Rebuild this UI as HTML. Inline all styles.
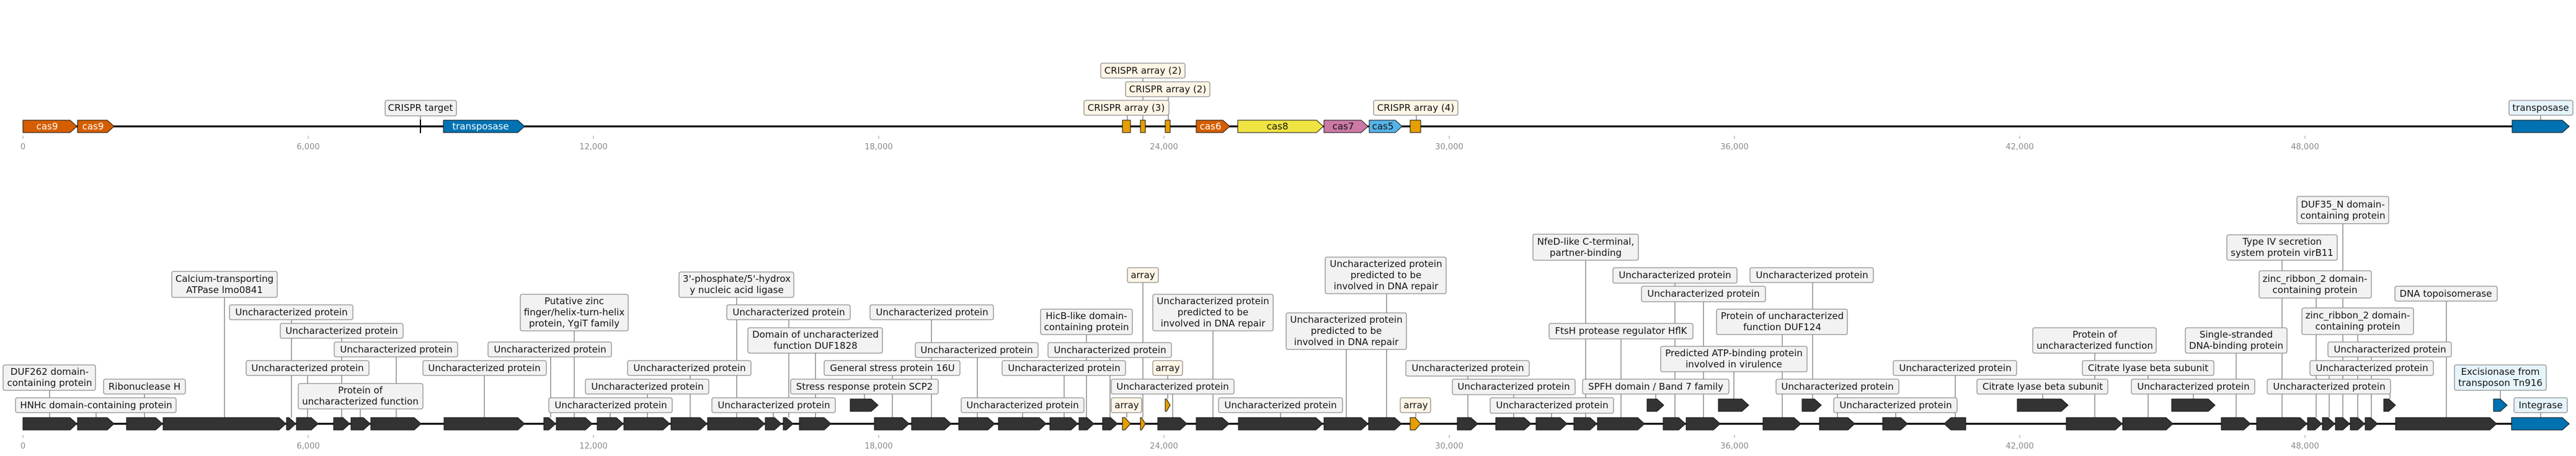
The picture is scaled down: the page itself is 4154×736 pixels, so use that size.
<!DOCTYPE html>
<html><head><meta charset="utf-8"><style>
html,body{margin:0;padding:0;background:#fff;}
svg{display:block;}
.b{fill:#f2f2f2;stroke:#8f8f8f;stroke-width:1.3}
.c{fill:#fdf5e6;stroke:#8f8f8f;stroke-width:1.3}
.l{fill:#e6f4fb;stroke:#8f8f8f;stroke-width:1.3}
.t{font-family:"DejaVu Sans","Liberation Sans",sans-serif;font-size:15px;text-anchor:middle;fill:#111}
.w{font-family:"DejaVu Sans","Liberation Sans",sans-serif;font-size:15px;text-anchor:middle;fill:#fff}
.tk{font-family:"DejaVu Sans","Liberation Sans",sans-serif;font-size:13px;text-anchor:middle;fill:#888}
.k{stroke:#555;stroke-width:1}
.g{fill:#333;stroke:#111;stroke-width:1}
.o{fill:#e69f00;stroke:#111;stroke-width:1}
.bl{fill:#0072b2;stroke:#111;stroke-width:1}
</style></head><body>
<svg width="4154" height="736" viewBox="0 0 4154 736" xmlns="http://www.w3.org/2000/svg">
<!-- backbones -->
<line x1="37" y1="204" x2="4143" y2="204" stroke="#000" stroke-width="3"/>
<line x1="37" y1="684" x2="4143" y2="684" stroke="#000" stroke-width="3"/>

<!-- ticks top -->
<g stroke="#999" stroke-width="1">
<line x1="37" y1="219" x2="37" y2="224"/><line x1="497" y1="219" x2="497" y2="224"/><line x1="957" y1="219" x2="957" y2="224"/><line x1="1417" y1="219" x2="1417" y2="224"/><line x1="1877" y1="219" x2="1877" y2="224"/><line x1="2337" y1="219" x2="2337" y2="224"/><line x1="2797" y1="219" x2="2797" y2="224"/><line x1="3257" y1="219" x2="3257" y2="224"/><line x1="3717" y1="219" x2="3717" y2="224"/>
<line x1="37" y1="702" x2="37" y2="707"/><line x1="497" y1="702" x2="497" y2="707"/><line x1="957" y1="702" x2="957" y2="707"/><line x1="1417" y1="702" x2="1417" y2="707"/><line x1="1877" y1="702" x2="1877" y2="707"/><line x1="2337" y1="702" x2="2337" y2="707"/><line x1="2797" y1="702" x2="2797" y2="707"/><line x1="3257" y1="702" x2="3257" y2="707"/><line x1="3717" y1="702" x2="3717" y2="707"/>
</g>
<text class="tk" x="37" y="241">0</text><text class="tk" x="497" y="241">6,000</text><text class="tk" x="957" y="241">12,000</text><text class="tk" x="1417" y="241">18,000</text><text class="tk" x="1877" y="241">24,000</text><text class="tk" x="2337" y="241">30,000</text><text class="tk" x="2797" y="241">36,000</text><text class="tk" x="3257" y="241">42,000</text><text class="tk" x="3717" y="241">48,000</text>
<text class="tk" x="37" y="724">0</text><text class="tk" x="497" y="724">6,000</text><text class="tk" x="957" y="724">12,000</text><text class="tk" x="1417" y="724">18,000</text><text class="tk" x="1877" y="724">24,000</text><text class="tk" x="2337" y="724">30,000</text><text class="tk" x="2797" y="724">36,000</text><text class="tk" x="3257" y="724">42,000</text><text class="tk" x="3717" y="724">48,000</text>

<!-- top connectors -->
<g class="k">
<line x1="678" y1="187" x2="678" y2="194"/>
<line x1="1843" y1="126" x2="1843" y2="194"/>
<line x1="1884" y1="156" x2="1884" y2="194"/>
<line x1="1818" y1="186" x2="1818" y2="194"/>
<line x1="2284" y1="186" x2="2284" y2="194"/>
<line x1="4097" y1="186" x2="4097" y2="194"/>
</g>
<!-- top features -->
<polygon points="37,194 113,194 124,204 113,214 37,214" fill="#d55e00" stroke="#111"/>
<polygon points="125,194 173,194 184,204 173,214 125,214" fill="#d55e00" stroke="#111"/>
<text class="w" x="76" y="209">cas9</text><text class="w" x="150" y="209">cas9</text>
<line x1="678" y1="193" x2="678" y2="215" stroke="#000" stroke-width="2"/>
<polygon points="715,194 835,194 846,204 835,214 715,214" class="bl"/>
<text class="w" x="775" y="209">transposase</text>
<rect x="1810" y="194" width="13" height="20" class="o"/>
<rect x="1839" y="194" width="8" height="20" class="o"/>
<rect x="1879" y="194" width="8" height="20" class="o"/>
<rect x="2274" y="194" width="17" height="20" class="o"/>
<polygon points="1929,194 1972,194 1983,204 1972,214 1929,214" fill="#d55e00" stroke="#111"/>
<text class="w" x="1952" y="209">cas6</text>
<polygon points="1996,194 2123,194 2134,204 2123,214 1996,214" fill="#f0e442" stroke="#111"/>
<text class="t" x="2060" y="209">cas8</text>
<polygon points="2135,194 2195,194 2206,204 2195,214 2135,214" fill="#cc79a7" stroke="#111"/>
<text class="t" x="2166" y="209">cas7</text>
<polygon points="2208,194 2250,194 2261,204 2250,214 2208,214" fill="#56b4e9" stroke="#111"/>
<text class="t" x="2230" y="209">cas5</text>
<polygon points="4051,194 4132,194 4143,204 4132,214 4051,214" class="bl"/>
<!-- top labels -->
<rect x="621" y="162" width="115" height="25" rx="3" class="b"/><text class="t" x="678" y="179">CRISPR target</text>
<rect x="1775" y="102" width="136" height="24" rx="3" class="c"/><text class="t" x="1843" y="119">CRISPR array (2)</text>
<rect x="1815" y="132" width="136" height="24" rx="3" class="c"/><text class="t" x="1883" y="149">CRISPR array (2)</text>
<rect x="1748" y="162" width="137" height="24" rx="3" class="c"/><text class="t" x="1816" y="179">CRISPR array (3)</text>
<rect x="2215" y="162" width="136" height="24" rx="3" class="c"/><text class="t" x="2283" y="179">CRISPR array (4)</text>
<rect x="4046" y="162" width="103" height="24" rx="3" class="l"/><text class="t" x="4097" y="179">transposase</text>

<!-- bottom connectors -->
<g class="k">
<line x1="80" y1="630" x2="80" y2="674"/>
<line x1="233" y1="636" x2="233" y2="674"/>
<line x1="155" y1="666" x2="155" y2="674"/>
<line x1="362" y1="480" x2="362" y2="674"/>
<line x1="470" y1="516" x2="470" y2="674"/>
<line x1="551" y1="546" x2="551" y2="674"/>
<line x1="639" y1="576" x2="639" y2="674"/>
<line x1="496" y1="606" x2="496" y2="674"/>
<line x1="581" y1="660" x2="581" y2="674"/>
<line x1="781" y1="606" x2="781" y2="674"/>
<line x1="926" y1="534" x2="926" y2="674"/>
<line x1="888" y1="576" x2="888" y2="674"/>
<line x1="1188" y1="480" x2="1188" y2="674"/>
<line x1="1272" y1="516" x2="1272" y2="674"/>
<line x1="1315" y1="570" x2="1315" y2="674"/>
<line x1="1113" y1="606" x2="1113" y2="674"/>
<line x1="1044" y1="636" x2="1044" y2="674"/>
<line x1="984" y1="666" x2="984" y2="674"/>
<line x1="1247" y1="666" x2="1247" y2="674"/>
<line x1="1439" y1="606" x2="1439" y2="674"/>
<line x1="1394" y1="636" x2="1394" y2="644"/>
<line x1="1502" y1="516" x2="1502" y2="674"/>
<line x1="1576" y1="577" x2="1576" y2="674"/>
<line x1="1649" y1="666" x2="1649" y2="674"/>
<line x1="1716" y1="606" x2="1716" y2="674"/>
<line x1="1752" y1="540" x2="1752" y2="674"/>
<line x1="1790" y1="577" x2="1790" y2="674"/>
<line x1="1843" y1="456" x2="1843" y2="674"/>
<line x1="1883" y1="606" x2="1883" y2="644"/>
<line x1="1891" y1="636" x2="1891" y2="674"/>
<line x1="1817" y1="666" x2="1817" y2="674"/>
<line x1="1956" y1="534" x2="1956" y2="674"/>
<line x1="2065" y1="666" x2="2065" y2="674"/>
<line x1="2236" y1="474" x2="2236" y2="674"/>
<line x1="2171" y1="564" x2="2171" y2="674"/>
<line x1="2283" y1="666" x2="2283" y2="674"/>
<line x1="2367" y1="607" x2="2367" y2="674"/>
<line x1="2441" y1="637" x2="2441" y2="674"/>
<line x1="2502" y1="667" x2="2502" y2="674"/>
<line x1="2557" y1="420" x2="2557" y2="674"/>
<line x1="2701" y1="457" x2="2701" y2="674"/>
<line x1="2747" y1="487" x2="2747" y2="674"/>
<line x1="2614" y1="547" x2="2614" y2="674"/>
<line x1="2796" y1="600" x2="2796" y2="644"/>
<line x1="2670" y1="636" x2="2670" y2="644"/>
<line x1="2923" y1="456" x2="2923" y2="644"/>
<line x1="2874" y1="540" x2="2874" y2="674"/>
<line x1="2963" y1="636" x2="2963" y2="674"/>
<line x1="3057" y1="666" x2="3057" y2="674"/>
<line x1="3153" y1="606" x2="3153" y2="674"/>
<line x1="3294" y1="636" x2="3294" y2="644"/>
<line x1="3378" y1="570" x2="3378" y2="674"/>
<line x1="3464" y1="606" x2="3464" y2="674"/>
<line x1="3537" y1="636" x2="3537" y2="644"/>
<line x1="3606" y1="570" x2="3606" y2="674"/>
<line x1="3778" y1="361" x2="3778" y2="674"/>
<line x1="3680" y1="420" x2="3680" y2="674"/>
<line x1="3735" y1="481" x2="3735" y2="674"/>
<line x1="3945" y1="486" x2="3945" y2="674"/>
<line x1="3802" y1="540" x2="3802" y2="674"/>
<line x1="3824" y1="576" x2="3824" y2="674"/>
<line x1="3756" y1="606" x2="3756" y2="674"/>
<line x1="3854" y1="636" x2="3854" y2="644"/>
<line x1="4032" y1="630" x2="4032" y2="644"/>
<line x1="4097" y1="666" x2="4097" y2="674"/>
</g>

<!-- bottom genes row 0 -->
<g class="g">
<polygon points="37,674 113,674 124,684 113,694 37,694"/>
<polygon points="125,674 173,674 184,684 173,694 125,694"/>
<polygon points="204,674 251,674 262,684 251,694 204,694"/>
<polygon points="263,674 450,674 461,684 450,694 263,694"/>
<polygon points="462,674 466,674 477,684 466,694 462,694"/>
<polygon points="478,674 502,674 513,684 502,694 478,694"/>
<polygon points="538,674 553,674 564,684 553,694 538,694"/>
<polygon points="566,674 586,674 597,684 586,694 566,694"/>
<polygon points="598,674 668,674 679,684 668,694 598,694"/>
<polygon points="716,674 835,674 846,684 835,694 716,694"/>
<polygon points="877,674 885,674 896,684 885,694 877,694"/>
<polygon points="897,674 944,674 955,684 944,694 897,694"/>
<polygon points="963,674 994,674 1005,684 994,694 963,694"/>
<polygon points="1006,674 1069,674 1080,684 1069,694 1006,694"/>
<polygon points="1082,674 1129,674 1140,684 1129,694 1082,694"/>
<polygon points="1141,674 1222,674 1233,684 1222,694 1141,694"/>
<polygon points="1234,674 1249,674 1260,684 1249,694 1234,694"/>
<polygon points="1263,674 1268,674 1279,684 1268,694 1263,694"/>
<polygon points="1289,674 1329,674 1340,684 1329,694 1289,694"/>
<polygon points="1410,674 1455,674 1466,684 1455,694 1410,694"/>
<polygon points="1470,674 1523,674 1534,684 1523,694 1470,694"/>
<polygon points="1546,674 1593,674 1604,684 1593,694 1546,694"/>
<polygon points="1610,674 1676,674 1687,684 1676,694 1610,694"/>
<polygon points="1693,674 1727,674 1738,684 1727,694 1693,694"/>
<polygon points="1740,674 1753,674 1764,684 1753,694 1740,694"/>
<polygon points="1778,674 1791,674 1802,684 1791,694 1778,694"/>
<polygon points="1867,674 1903,674 1914,684 1903,694 1867,694"/>
<polygon points="1929,674 1971,674 1982,684 1971,694 1929,694"/>
<polygon points="1997,674 2122,674 2133,684 2122,694 1997,694"/>
<polygon points="2135,674 2195,674 2206,684 2195,694 2135,694"/>
<polygon points="2207,674 2249,674 2260,684 2249,694 2207,694"/>
<polygon points="2350,674 2372,674 2383,684 2372,694 2350,694"/>
<polygon points="2412,674 2458,674 2469,684 2458,694 2412,694"/>
<polygon points="2477,674 2516,674 2527,684 2516,694 2477,694"/>
<polygon points="2538,674 2564,674 2575,684 2564,694 2538,694"/>
<polygon points="2576,674 2641,674 2652,684 2641,694 2576,694"/>
<polygon points="2682,674 2707,674 2718,684 2707,694 2682,694"/>
<polygon points="2719,674 2763,674 2774,684 2763,694 2719,694"/>
<polygon points="2843,674 2893,674 2904,684 2893,694 2843,694"/>
<polygon points="2934,674 2980,674 2991,684 2980,694 2934,694"/>
<polygon points="3036,674 3065,674 3076,684 3065,694 3036,694"/>
<polygon points="3135,684 3146,674 3170,674 3170,694 3146,694"/>
<polygon points="3332,674 3411,674 3422,684 3411,694 3332,694"/>
<polygon points="3423,674 3493,674 3504,684 3493,694 3423,694"/>
<polygon points="3582,674 3618,674 3629,684 3618,694 3582,694"/>
<polygon points="3639,674 3709,674 3720,684 3709,694 3639,694"/>
<polygon points="3721,674 3733,674 3744,684 3733,694 3721,694"/>
<polygon points="3745,674 3754,674 3765,684 3754,694 3745,694"/>
<polygon points="3766,674 3778,674 3789,684 3778,694 3766,694"/>
<polygon points="3790,674 3802,674 3813,684 3802,694 3790,694"/>
<polygon points="3814,674 3823,674 3834,684 3823,694 3814,694"/>
<polygon points="3863,674 4015,674 4026,684 4015,694 3863,694"/>
<!-- row 1 -->
<polygon points="1371,644 1405,644 1416,654 1405,664 1371,664"/>
<polygon points="2656,644 2672,644 2683,654 2672,664 2656,664"/>
<polygon points="2771,644 2809,644 2820,654 2809,664 2771,664"/>
<polygon points="2906,644 2926,644 2937,654 2926,664 2906,664"/>
<polygon points="3253,644 3324,644 3335,654 3324,664 3253,664"/>
<polygon points="3502,644 3561,644 3572,654 3561,664 3502,664"/>
<polygon points="3844,644 3852,644 3863,654 3852,664 3844,664"/>
</g>
<polygon points="1810,674 1814,674 1823,684 1814,694 1810,694" class="o"/>
<polygon points="1839,674 1841,674 1847,684 1841,694 1839,694" class="o"/>
<polygon points="2274,674 2282,674 2291,684 2282,694 2274,694" class="o"/>
<polygon points="1879,644 1881,644 1887,654 1881,664 1879,664" class="o"/>
<polygon points="4050,674 4132,674 4143,684 4132,694 4050,694" class="bl"/>
<polygon points="4021,644 4032,644 4043,654 4032,664 4021,664" class="bl"/>

<!-- bottom labels -->
<rect x="5" y="589" width="149" height="41" rx="3" class="b"/><text class="t" x="80" y="605">DUF262 domain-</text><text class="t" x="80" y="623">containing protein</text>
<rect x="167" y="612" width="132" height="24" rx="3" class="b"/><text class="t" x="233" y="629">Ribonuclease H</text>
<rect x="25" y="642" width="259" height="24" rx="3" class="b"/><text class="t" x="155" y="659">HNHc domain-containing protein</text>
<rect x="277" y="438" width="170" height="42" rx="3" class="b"/><text class="t" x="362" y="455">Calcium-transporting</text><text class="t" x="362" y="473">ATPase lmo0841</text>
<rect x="370" y="492" width="199" height="24" rx="3" class="b"/><text class="t" x="470" y="509">Uncharacterized protein</text>
<rect x="452" y="522" width="198" height="24" rx="3" class="b"/><text class="t" x="551" y="539">Uncharacterized protein</text>
<rect x="539" y="552" width="199" height="24" rx="3" class="b"/><text class="t" x="639" y="569">Uncharacterized protein</text>
<rect x="397" y="582" width="198" height="24" rx="3" class="b"/><text class="t" x="496" y="599">Uncharacterized protein</text>
<rect x="481" y="619" width="201" height="41" rx="3" class="b"/><text class="t" x="581" y="635">Protein of</text><text class="t" x="581" y="653">uncharacterized function</text>
<rect x="682" y="582" width="199" height="24" rx="3" class="b"/><text class="t" x="781" y="599">Uncharacterized protein</text>
<rect x="839" y="475" width="174" height="59" rx="3" class="b"/><text class="t" x="926" y="491">Putative zinc</text><text class="t" x="926" y="509">finger/helix-turn-helix</text><text class="t" x="926" y="527">protein, YgiT family</text>
<rect x="787" y="552" width="199" height="24" rx="3" class="b"/><text class="t" x="887" y="569">Uncharacterized protein</text>
<rect x="1095" y="439" width="185" height="41" rx="3" class="b"/><text class="t" x="1188" y="455">3'-phosphate/5'-hydrox</text><text class="t" x="1188" y="473">y nucleic acid ligase</text>
<rect x="1172" y="492" width="199" height="24" rx="3" class="b"/><text class="t" x="1272" y="509">Uncharacterized protein</text>
<rect x="1206" y="529" width="217" height="41" rx="3" class="b"/><text class="t" x="1315" y="545">Domain of uncharacterized</text><text class="t" x="1315" y="563">function DUF1828</text>
<rect x="1012" y="582" width="199" height="24" rx="3" class="b"/><text class="t" x="1112" y="599">Uncharacterized protein</text>
<rect x="944" y="612" width="199" height="24" rx="3" class="b"/><text class="t" x="1044" y="629">Uncharacterized protein</text>
<rect x="885" y="642" width="199" height="24" rx="3" class="b"/><text class="t" x="985" y="659">Uncharacterized protein</text>
<rect x="1148" y="642" width="199" height="24" rx="3" class="b"/><text class="t" x="1248" y="659">Uncharacterized protein</text>
<rect x="1329" y="582" width="219" height="24" rx="3" class="b"/><text class="t" x="1439" y="599">General stress protein 16U</text>
<rect x="1275" y="612" width="238" height="24" rx="3" class="b"/><text class="t" x="1394" y="629">Stress response protein SCP2</text>
<rect x="1403" y="492" width="199" height="24" rx="3" class="b"/><text class="t" x="1503" y="509">Uncharacterized protein</text>
<rect x="1476" y="553" width="198" height="24" rx="3" class="b"/><text class="t" x="1575" y="570">Uncharacterized protein</text>
<rect x="1550" y="642" width="198" height="24" rx="3" class="b"/><text class="t" x="1649" y="659">Uncharacterized protein</text>
<rect x="1616" y="582" width="199" height="24" rx="3" class="b"/><text class="t" x="1716" y="599">Uncharacterized protein</text>
<rect x="1678" y="499" width="148" height="41" rx="3" class="b"/><text class="t" x="1752" y="515">HicB-like domain-</text><text class="t" x="1752" y="533">containing protein</text>
<rect x="1690" y="553" width="199" height="24" rx="3" class="b"/><text class="t" x="1790" y="570">Uncharacterized protein</text>
<rect x="1818" y="432" width="50" height="24" rx="3" class="c"/><text class="t" x="1843" y="449">array</text>
<rect x="1859" y="582" width="48" height="24" rx="3" class="c"/><text class="t" x="1883" y="599">array</text>
<rect x="1792" y="612" width="198" height="24" rx="3" class="b"/><text class="t" x="1891" y="629">Uncharacterized protein</text>
<rect x="1792" y="642" width="49" height="24" rx="3" class="c"/><text class="t" x="1817" y="659">array</text>
<rect x="1859" y="475" width="194" height="59" rx="3" class="b"/><text class="t" x="1956" y="491">Uncharacterized protein</text><text class="t" x="1956" y="509">predicted to be</text><text class="t" x="1956" y="527">involved in DNA repair</text>
<rect x="1965" y="642" width="200" height="24" rx="3" class="b"/><text class="t" x="2065" y="659">Uncharacterized protein</text>
<rect x="2137" y="415" width="195" height="59" rx="3" class="b"/><text class="t" x="2235" y="431">Uncharacterized protein</text><text class="t" x="2235" y="449">predicted to be</text><text class="t" x="2235" y="467">involved in DNA repair</text>
<rect x="2074" y="505" width="194" height="59" rx="3" class="b"/><text class="t" x="2171" y="521">Uncharacterized protein</text><text class="t" x="2171" y="539">predicted to be</text><text class="t" x="2171" y="557">involved in DNA repair</text>
<rect x="2258" y="642" width="49" height="24" rx="3" class="c"/><text class="t" x="2283" y="659">array</text>
<rect x="2267" y="582" width="199" height="25" rx="3" class="b"/><text class="t" x="2367" y="599">Uncharacterized protein</text>
<rect x="2342" y="612" width="198" height="25" rx="3" class="b"/><text class="t" x="2441" y="629">Uncharacterized protein</text>
<rect x="2403" y="642" width="199" height="25" rx="3" class="b"/><text class="t" x="2503" y="659">Uncharacterized protein</text>
<rect x="2472" y="378" width="170" height="42" rx="3" class="b"/><text class="t" x="2557" y="395">NfeD-like C-terminal,</text><text class="t" x="2557" y="413">partner-binding</text>
<rect x="2601" y="432" width="200" height="25" rx="3" class="b"/><text class="t" x="2701" y="449">Uncharacterized protein</text>
<rect x="2647" y="462" width="200" height="25" rx="3" class="b"/><text class="t" x="2747" y="479">Uncharacterized protein</text>
<rect x="2498" y="522" width="232" height="25" rx="3" class="b"/><text class="t" x="2614" y="539">FtsH protease regulator HflK</text>
<rect x="2678" y="559" width="236" height="41" rx="3" class="b"/><text class="t" x="2796" y="575">Predicted ATP-binding protein</text><text class="t" x="2796" y="593">involved in virulence</text>
<rect x="2552" y="612" width="236" height="24" rx="3" class="b"/><text class="t" x="2670" y="629">SPFH domain / Band 7 family</text>
<rect x="2822" y="432" width="199" height="24" rx="3" class="b"/><text class="t" x="2922" y="449">Uncharacterized protein</text>
<rect x="2768" y="499" width="211" height="41" rx="3" class="b"/><text class="t" x="2874" y="515">Protein of uncharacterized</text><text class="t" x="2874" y="533">function DUF124</text>
<rect x="2864" y="612" width="198" height="24" rx="3" class="b"/><text class="t" x="2963" y="629">Uncharacterized protein</text>
<rect x="2957" y="642" width="199" height="24" rx="3" class="b"/><text class="t" x="3057" y="659">Uncharacterized protein</text>
<rect x="3053" y="582" width="199" height="24" rx="3" class="b"/><text class="t" x="3153" y="599">Uncharacterized protein</text>
<rect x="3188" y="612" width="211" height="24" rx="3" class="b"/><text class="t" x="3294" y="629">Citrate lyase beta subunit</text>
<rect x="3278" y="529" width="199" height="41" rx="3" class="b"/><text class="t" x="3378" y="545">Protein of</text><text class="t" x="3378" y="563">uncharacterized function</text>
<rect x="3358" y="582" width="212" height="24" rx="3" class="b"/><text class="t" x="3464" y="599">Citrate lyase beta subunit</text>
<rect x="3437" y="612" width="199" height="24" rx="3" class="b"/><text class="t" x="3537" y="629">Uncharacterized protein</text>
<rect x="3524" y="529" width="164" height="41" rx="3" class="b"/><text class="t" x="3606" y="545">Single-stranded</text><text class="t" x="3606" y="563">DNA-binding protein</text>
<rect x="3704" y="317" width="148" height="44" rx="3" class="b"/><text class="t" x="3778" y="335">DUF35_N domain-</text><text class="t" x="3778" y="353">containing protein</text>
<rect x="3591" y="379" width="178" height="41" rx="3" class="b"/><text class="t" x="3680" y="395">Type IV secretion</text><text class="t" x="3680" y="413">system protein virB11</text>
<rect x="3643" y="437" width="181" height="44" rx="3" class="b"/><text class="t" x="3733" y="455">zinc_ribbon_2 domain-</text><text class="t" x="3733" y="473">containing protein</text>
<rect x="3862" y="462" width="165" height="24" rx="3" class="b"/><text class="t" x="3944" y="479">DNA topoisomerase</text>
<rect x="3712" y="497" width="180" height="43" rx="3" class="b"/><text class="t" x="3802" y="514">zinc_ribbon_2 domain-</text><text class="t" x="3802" y="532">containing protein</text>
<rect x="3754" y="552" width="199" height="24" rx="3" class="b"/><text class="t" x="3854" y="569">Uncharacterized protein</text>
<rect x="3725" y="582" width="199" height="24" rx="3" class="b"/><text class="t" x="3825" y="599">Uncharacterized protein</text>
<rect x="3656" y="612" width="199" height="24" rx="3" class="b"/><text class="t" x="3756" y="629">Uncharacterized protein</text>
<rect x="3958" y="589" width="148" height="41" rx="3" class="l"/><text class="t" x="4032" y="605">Excisionase from</text><text class="t" x="4032" y="623">transposon Tn916</text>
<rect x="4054" y="642" width="86" height="24" rx="3" class="l"/><text class="t" x="4097" y="659">Integrase</text>
</svg>
</body></html>
